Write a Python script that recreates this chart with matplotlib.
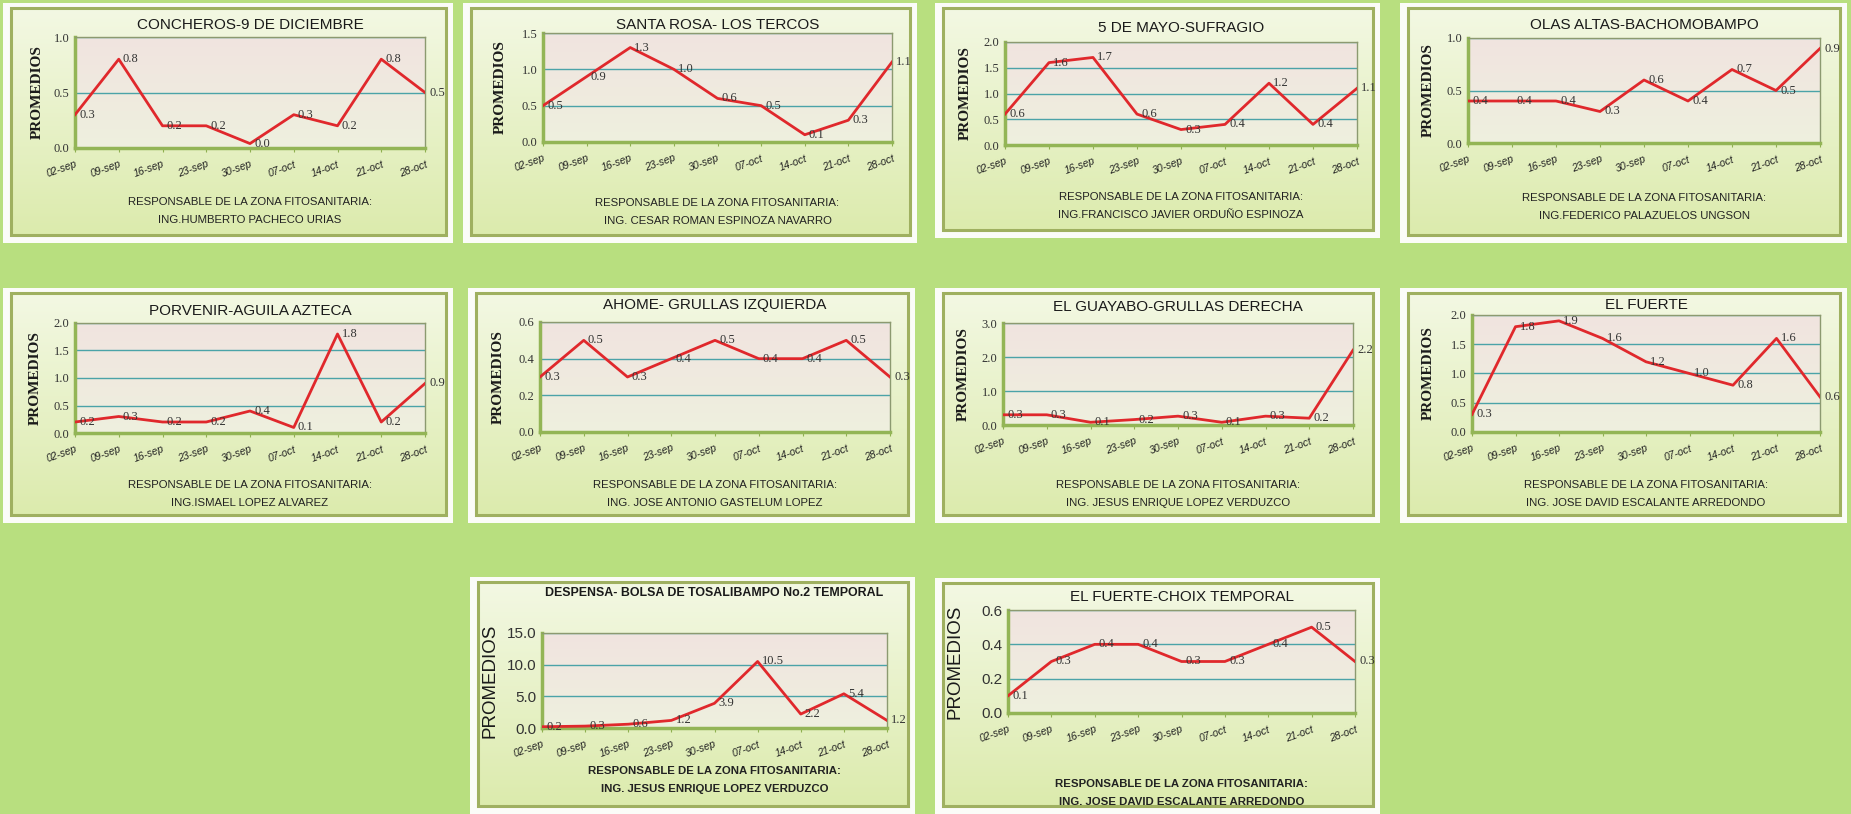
import matplotlib
matplotlib.use("Agg")
import matplotlib.pyplot as plt
import numpy as np
from matplotlib.colors import to_rgb
from matplotlib.patches import Rectangle

# Datos
fechas = ["02-sep", "09-sep", "16-sep", "23-sep", "30-sep", "07-oct", "14-oct", "21-oct", "28-oct"]

titulos = [
    "CONCHEROS-9 DE DICIEMBRE",
    "SANTA ROSA- LOS TERCOS",
    "5 DE MAYO-SUFRAGIO",
    "OLAS ALTAS-BACHOMOBAMPO",
    "PORVENIR-AGUILA AZTECA",
    "AHOME- GRULLAS IZQUIERDA",
    "EL GUAYABO-GRULLAS DERECHA",
    "EL FUERTE",
    "DESPENSA- BOLSA DE TOSALIBAMPO No.2 TEMPORAL",
    "EL FUERTE-CHOIX TEMPORAL",
]
responsables = [
    "ING.HUMBERTO PACHECO URIAS",
    "ING. CESAR ROMAN ESPINOZA NAVARRO",
    "ING.FRANCISCO JAVIER ORDUÑO ESPINOZA",
    "ING.FEDERICO PALAZUELOS UNGSON",
    "ING.ISMAEL LOPEZ ALVAREZ",
    "ING. JOSE ANTONIO GASTELUM LOPEZ",
    "ING. JESUS ENRIQUE LOPEZ VERDUZCO",
    "ING. JOSE DAVID ESCALANTE ARREDONDO",
    "ING. JESUS ENRIQUE LOPEZ VERDUZCO",
    "ING. JOSE DAVID ESCALANTE ARREDONDO",
]

concheros = [0.3, 0.8, 0.2, 0.2, 0.04, 0.3, 0.2, 0.8, 0.5]
santa_rosa = [0.5, 0.9, 1.3, 1.0, 0.6, 0.5, 0.1, 0.3, 1.1]
cinco_mayo = [0.6, 1.6, 1.7, 0.6, 0.3, 0.4, 1.2, 0.4, 1.1]
olas_altas = [0.4, 0.4, 0.4, 0.3, 0.6, 0.4, 0.7, 0.5, 0.9]
porvenir = [0.2, 0.3, 0.2, 0.2, 0.4, 0.1, 1.8, 0.2, 0.9]
ahome = [0.3, 0.5, 0.3, 0.4, 0.5, 0.4, 0.4, 0.5, 0.3]
guayabo = [0.3, 0.3, 0.08, 0.16, 0.26, 0.08, 0.26, 0.2, 2.2]
el_fuerte = [0.3, 1.8, 1.9, 1.6, 1.2, 1.0, 0.8, 1.6, 0.6]
despensa = [0.2, 0.3, 0.6, 1.2, 3.9, 10.5, 2.2, 5.4, 1.2]
choix = [0.1, 0.3, 0.4, 0.4, 0.3, 0.3, 0.4, 0.5, 0.3]

series = [concheros, santa_rosa, cinco_mayo, olas_altas, porvenir,
          ahome, guayabo, el_fuerte, despensa, choix]
y_max = [1.0, 1.5, 2.0, 1.0, 2.0, 0.6, 3.0, 2.0, 15.0, 0.6]
y_paso = [0.5, 0.5, 0.5, 0.5, 0.5, 0.2, 1.0, 0.5, 5.0, 0.2]

# Layout en pixeles (x0, y0, x1, y1)
W, H = 1851, 814
marcos = [(3, 3, 453, 243), (463, 3, 917, 243), (935, 3, 1380, 238), (1400, 3, 1847, 243),
          (3, 288, 453, 523), (468, 288, 915, 523), (935, 288, 1380, 523), (1400, 288, 1847, 523),
          (470, 577, 915, 814), (935, 578, 1380, 814)]
areas = [(75, 37, 425, 148), (543, 33, 892, 142), (1005, 42, 1357, 145), (1468, 38, 1820, 143),
         (75, 323, 425, 433), (540, 322, 890, 432), (1003, 323, 1353, 425), (1472, 315, 1820, 432),
         (542, 633, 887, 728), (1008, 610, 1355, 713)]
y_titulo = [25, 25, 28, 25, 311, 305, 307, 305, 593, 597]
y_pie = [202, 203, 197, 198, 485, 485, 485, 485, 771, 784]
x_ylabel = [37, 500, 965, 1428, 35, 498, 963, 1428, 490, 955]

SANS = ["Liberation Sans", "DejaVu Sans"]
SERIF = ["Liberation Serif", "DejaVu Serif"]


def gradiente(c1, c2, n=64):
    a, b = np.array(to_rgb(c1)), np.array(to_rgb(c2))
    t = np.linspace(0, 1, n)[:, None]
    return (a * (1 - t) + b * t)[:, None, :]


fig = plt.figure(figsize=(W / 100, H / 100), dpi=100)
fig.patch.set_facecolor("#b8df7f")

bg = fig.add_axes([0, 0, 1, 1])
bg.axis("off")

for k in range(10):
    x0, y0, x1, y1 = marcos[k]
    bg.add_patch(Rectangle((x0, y0), x1 - x0, y1 - y0, facecolor="#fbfcf8", edgecolor="none"))
    # panel interior con degradado
    ix0, iy0, ix1, iy1 = x0 + 8, y0 + 5, x1 - 7, y1 - 8
    bg.imshow(gradiente("#f3f8e3", "#dcebad"), extent=(ix0, ix1, iy1, iy0), aspect="auto",
              interpolation="bilinear", zorder=1)
    bg.add_patch(Rectangle((ix0, iy0), ix1 - ix0, iy1 - iy0, facecolor="none",
                           edgecolor="#9fb060", lw=2.2, zorder=2))
bg.set_xlim(0, W)
bg.set_ylim(H, 0)

for k in range(10):
    l, t, r, b = areas[k]
    especial = k >= 8
    ax = fig.add_axes([l / W, 1 - b / H, (r - l) / W, (b - t) / H])
    ax.imshow(gradiente("#f1e4e0", "#eef0de"), extent=(0, 1, 0, 1), transform=ax.transAxes,
              aspect="auto", interpolation="bilinear", zorder=0)
    x = np.arange(len(fechas))
    ax.set_xlim(0, len(fechas) - 1)
    ax.set_ylim(0, y_max[k])
    ticks = np.arange(0, y_max[k] + y_paso[k] / 2, y_paso[k])
    ax.set_yticks(ticks)
    ax.set_yticklabels([f"{v:.1f}" for v in ticks], fontsize=11 if especial else 9,
                       family=SANS if especial else SERIF, color="#333333")
    ax.set_xticks(x)
    ax.set_xticklabels(fechas, rotation=20, ha="right", rotation_mode="anchor",
                       fontsize=7.5, family=SANS, style="italic", color="#222222")
    ax.tick_params(axis="x", length=3, pad=5, color="#8fb050")
    ax.tick_params(axis="y", length=0, pad=4)
    ax.grid(axis="y", color="#4ba3a8", lw=1)
    ax.set_axisbelow(True)
    for s in ["top", "right"]:
        ax.spines[s].set_color("#8c9a70")
        ax.spines[s].set_linewidth(1)
    for s in ["left", "bottom"]:
        ax.spines[s].set_color("#93b556")
        ax.spines[s].set_linewidth(2.5)

    ax.plot(x, series[k], color="#e0282c", lw=2, zorder=3)
    for i, v in enumerate(series[k]):
        ax.annotate(f"{v:.1f}", (i, v), xytext=(3, 0), textcoords="offset points",
                    ha="left", va="center", fontsize=9, family=SERIF, color="#333333",
                    annotation_clip=False, zorder=4)

    cx = (l + r) / 2
    fig.text(cx / W, 1 - y_titulo[k] / H, titulos[k], ha="center", va="center",
             fontsize=8.9 if k == 8 else 11, family=SANS,
             fontweight="bold" if k == 8 else "normal", color="#1a1a1a")
    fig.text(cx / W, 1 - y_pie[k] / H, "RESPONSABLE DE LA ZONA FITOSANITARIA:",
             ha="center", va="center", fontsize=8.2, family=SANS,
             fontweight="bold" if especial else "normal", color="#222222")
    fig.text(cx / W, 1 - (y_pie[k] + 18) / H, responsables[k],
             ha="center", va="center", fontsize=8.2, family=SANS,
             fontweight="bold" if especial else "normal", color="#222222")
    fig.text(x_ylabel[k] / W, 1 - ((t + b) / 2) / H, "PROMEDIOS", rotation=90,
             ha="center", va="center", fontsize=13.5 if especial else 11,
             family=SANS if especial else SERIF,
             fontweight="normal" if especial else "bold", color="#1a1a1a")

fig.savefig("out.png", dpi=100, facecolor=fig.get_facecolor())
